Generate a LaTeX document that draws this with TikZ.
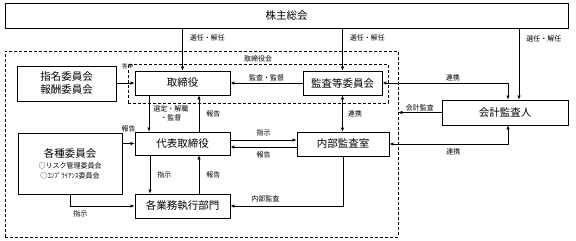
\documentclass[tikz,border=0pt]{standalone}
\usepackage{fontspec}
\setmainfont{Noto Sans CJK JP}
\usetikzlibrary{arrows.meta}

\begin{document}
\begin{tikzpicture}[
  x=1pt, y=-1pt,
  box/.style={draw, line width=0.9pt, inner sep=0pt, align=center, font=\fontsize{10.5}{13}\selectfont},
  frame/.style={draw, line width=0.6pt, dash pattern=on 3pt off 2pt, inner sep=0pt},
  lbl/.style={font=\fontsize{7}{8.5}\selectfont, inner sep=1pt},
  conn/.style={->, line width=0.6pt},
  both/.style={<->, line width=0.6pt},
  >={Latex[length=4pt,width=3.5pt]}
]
  \useasboundingbox (0,0) rectangle (576,241);

  % Rahmen (aussen und Vorstand)
  \node[frame, minimum width=393pt, minimum height=186pt] (outer) at (201.5,144) {};
  \node[frame, minimum width=260pt, minimum height=39pt] (board) at (258,83.5) {};
  \node[lbl] at (258,59) {取締役会};

  % Kasten
  \node[box, minimum width=563pt, minimum height=25pt] (sh) at (286.5,15.5) {株主総会};
  \node[box, minimum width=95pt, minimum height=24pt] (tor) at (182.5,83) {取締役};
  \node[box, minimum width=79pt, minimum height=24pt] (kan) at (342.5,83) {監査等委員会};
  \node[box, minimum width=99pt, minimum height=35pt] (shim) at (66.5,83.5) {指名委員会\\報酬委員会};
  \node[box, minimum width=95pt, minimum height=23pt] (dai) at (182.5,143.5) {代表取締役};
  \node[box, minimum width=92pt, minimum height=24pt] (nai) at (343,144) {内部監査室};
  \node[box, minimum width=126pt, minimum height=25pt] (kai) at (505,112.5) {会計監査人};
  \node[box, minimum width=104pt, minimum height=61pt] (kak) at (70,163.5)
    {各種委員会\\[-2pt]{\fontsize{7}{9}\selectfont ○リスク管理委員会}\\[-3pt]{\fontsize{7}{9}\selectfont ○ｺﾝﾌﾟﾗｲｱﾝｽ委員会}};
  \node[box, minimum width=95pt, minimum height=24pt] (gyo) at (182.5,206) {各業務執行部門};

  % Hauptversammlung
  \draw[conn] (sh.south -| tor.north) -- node[lbl, right=6pt, pos=0.23] {選任・解任} (tor.north);
  \draw[conn] (sh.south -| kan.north) -- node[lbl, right=6pt, pos=0.23] {選任・解任} (kan.north);
  \draw[conn] ([xshift=14pt]kai.north |- sh.south) -- node[lbl, right=6pt, pos=0.14] {選任・解任} ([xshift=14pt]kai.north);

  % Vorstand
  \draw[conn] (shim.east |- tor.west) -- (tor.west);
  \node[lbl, font=\fontsize{5.5}{6}\selectfont] at (127.5,66.5) {答申};
  \draw[conn] (kan.west) -- node[lbl, above=1pt] {監査・監督} (tor.east);
  \draw[conn] ([xshift=-33.5pt]tor.south) -- node[lbl, align=center, right=3pt] {選定・解職\\・監督} ([xshift=-33.5pt]dai.north);
  \draw[conn] ([xshift=16.5pt]dai.north) -- node[lbl, right=6pt] {報告} ([xshift=16.5pt]tor.south);

  % Pruefung
  \draw[both] (kan.east) -| node[lbl, above=1pt, pos=0.28] {連携} ([xshift=3pt]kai.north);
  \draw[conn] (kai.west) -- node[lbl, above=0pt] {会計監査} (kai.west -| outer.east);
  \draw[both] (nai.east) -| node[lbl, below=3pt, pos=0.27] {連携} ([xshift=3pt]kai.south);
  \draw[both] (kan.south) -- node[lbl, right=4pt] {連携} (kan.south |- nai.north);

  % Vorstandsvorsitzender
  \draw[conn] ([yshift=3.5pt]dai.east) -- node[lbl, above=3pt] {指示} ([yshift=3.5pt]dai.east -| nai.west);
  \draw[conn] ([yshift=-3.5pt]dai.east -| nai.west) -- node[lbl, below=3pt] {報告} ([yshift=-3.5pt]dai.east);
  \draw[conn] (kak.east |- dai.west) -- (dai.west);
  \node[lbl] at (128.5,128.5) {報告};
  \draw[conn] ([xshift=-32.5pt]dai.south) -- node[lbl, right=6pt] {指示} ([xshift=-32.5pt]dai.south |- gyo.north);
  \draw[conn] ([xshift=16.5pt]gyo.north) -- node[lbl, right=6pt] {報告} ([xshift=16.5pt]gyo.north |- dai.south);

  % Abteilungen
  \draw[conn] (kak.south) |- node[lbl, below=3pt, pos=0.58] {指示} (gyo.west);
  \draw[conn] (nai.south) |- node[lbl, above=3pt, pos=0.845] {内部監査} (gyo.east);
\end{tikzpicture}
\end{document}
